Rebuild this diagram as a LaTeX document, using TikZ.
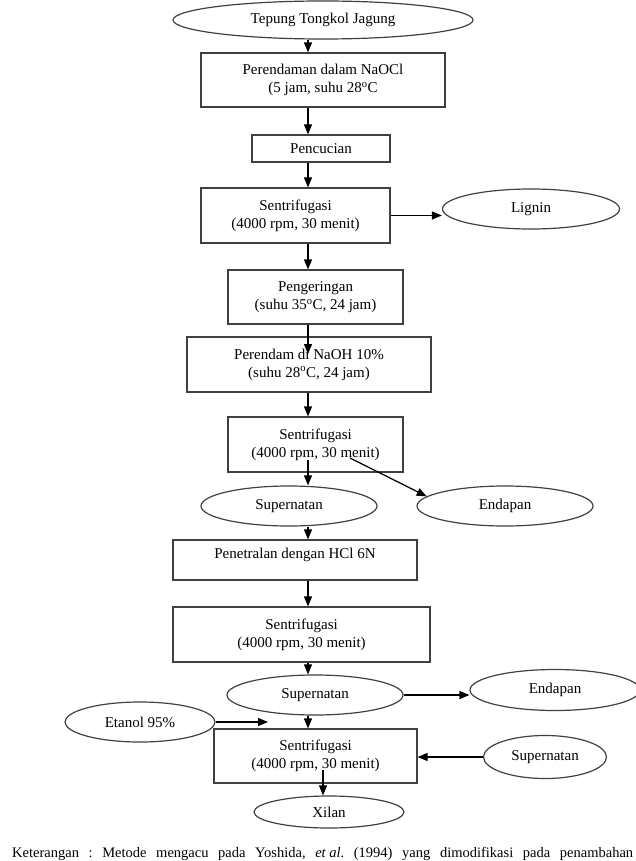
\documentclass[tikz,border=0pt]{standalone}
\usepackage{fontspec}
\setmainfont{Liberation Serif}
\usetikzlibrary{shapes.geometric,arrows.meta,calc}
\tikzset{
  base/.style={draw=black!75, line width=1.2pt, font=\fontsize{15}{18}\selectfont, align=center, inner sep=0pt, text=black},
  box/.style={base, rectangle},
  oval/.style={base, ellipse},
  arr/.style={draw=black, line width=1.2pt, -{Triangle[length=10pt,width=8pt]}},
}
\begin{document}
\begin{tikzpicture}[x=1pt,y=-1pt]
\useasboundingbox (0,0) rectangle (636,861);
\coordinate (spine) at (308,0);
% nodes
\node[oval, minimum width=300, minimum height=38] (tepung) at (323,20) {Tepung Tongkol Jagung};
\node[box, minimum width=244, minimum height=54] (b1) at (323,80) {Perendaman dalam NaOCl\\(5 jam, suhu 28\textsuperscript{o}C};
\node[box, minimum width=138, minimum height=27] (b2) at (321,148.5) {Pencucian};
\node[box, minimum width=189, minimum height=55] (b3) at (295.5,215.5) {Sentrifugasi\\(4000 rpm, 30 menit)};
\node[oval, minimum width=177, minimum height=40] (lignin) at (531,209) {Lignin};
\node[box, minimum width=175, minimum height=54] (b4) at (315.5,297) {Pengeringan\\(suhu 35\textsuperscript{o}C, 24 jam)};
\node[box, minimum width=244, minimum height=55] (b5) at (309,364.5) {Perendam di NaOH 10\%\\(suhu 28\textsuperscript{o}C, 24 jam)};
\node[box, minimum width=175, minimum height=55] (b6) at (315.5,444.5) {Sentrifugasi\\(4000 rpm, 30 menit)};
\node[oval, minimum width=176, minimum height=40] (sup1) at (289,506) {Supernatan};
\node[oval, minimum width=176, minimum height=40] (end1) at (505,506) {Endapan};
\node[box, minimum width=244, minimum height=40, text depth=13pt] (b7) at (295,560) {Penetralan dengan HCl 6N};
\node[box, minimum width=257, minimum height=55] (b8) at (301.5,634.5) {Sentrifugasi\\(4000 rpm, 30 menit)};
\node[oval, minimum width=176, minimum height=40] (sup2) at (315,695) {Supernatan};
\node[oval, minimum width=170, minimum height=41] (end2) at (555,690) {Endapan};
\node[oval, minimum width=150, minimum height=40] (etanol) at (140,722) {Etanol 95\%};
\node[box, minimum width=203, minimum height=54] (b9) at (315.5,756) {Sentrifugasi\\(4000 rpm, 30 menit)};
\node[oval, minimum width=123, minimum height=43] (sup3) at (545,757) {Supernatan};
\node[oval, minimum width=150, minimum height=32] (xilan) at (329,812) {Xilan};
\node[anchor=base west, inner sep=0pt, font=\fontsize{14.5}{17}\selectfont] (cap) at (12,857)
  {\hbox to 621pt{Keterangan\hfill:\hfill Metode\hfill mengacu\hfill pada\hfill Yoshida,\hfill \textit{et al}.\hfill (1994)\hfill yang\hfill dimodifikasi\hfill pada\hfill penambahan}};
% free ends
\coordinate (naohtip) at (308,354);
\coordinate (c6a) at (308,460);
\coordinate (c6b) at (350,458);
\coordinate (etip) at (268,722);
\coordinate (c9) at (323,770);
% connectors
\draw[arr] (spine |- tepung.south) -- (spine |- b1.north);
\draw[arr] (spine |- b1.south) -- (spine |- b2.north);
\draw[arr] (spine |- b2.south) -- (spine |- b3.north);
\draw[arr] (b3.east) -- (b3.east -| lignin.west);
\draw[arr] (spine |- b3.south) -- (spine |- b4.north);
\draw[arr] (spine |- b4.south) -- (naohtip);
\draw[arr] (spine |- b5.south) -- (spine |- b6.north);
\draw[arr] (c6a) -- (spine |- sup1.north);
\draw[arr] (c6b) -- (end1.173);
\draw[arr] (spine |- sup1.south) -- (spine |- b7.north);
\draw[arr] (spine |- b7.south) -- (spine |- b8.north);
\draw[arr] (spine |- b8.south) -- (spine |- sup2.north);
\draw[arr] (sup2.east) -- (sup2.east -| end2.west);
\draw[arr] (spine |- sup2.south) -- (spine |- b9.north);
\draw[arr] (etanol.east) -- (etip);
\draw[arr] (sup3.west) -- (sup3.west -| b9.east);
\draw[arr] (c9) -- (c9 |- xilan.north);
\end{tikzpicture}
\end{document}
